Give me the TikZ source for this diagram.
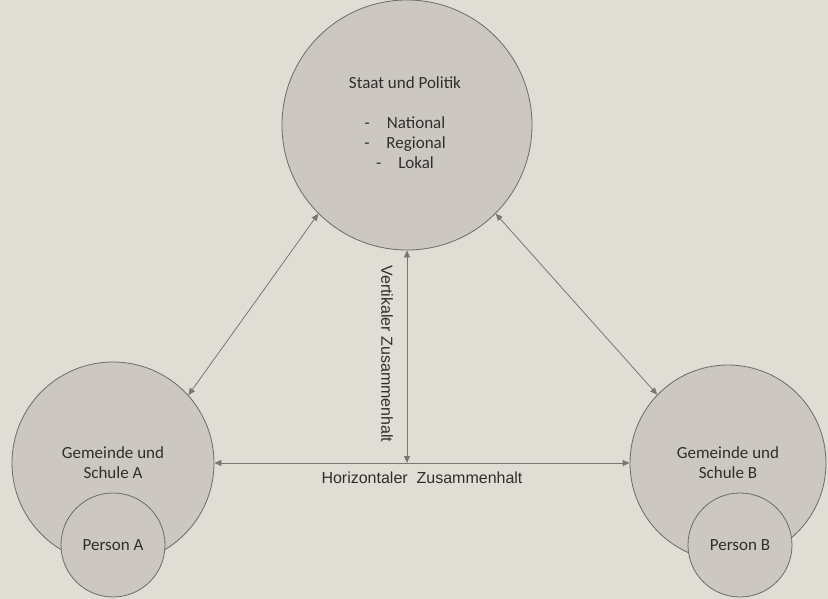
\documentclass[tikz,border=0pt]{standalone}
\usepackage{fontspec}
\setmainfont{Carlito}
\newfontfamily\arialfont{Liberation Sans}
\usetikzlibrary{arrows.meta}

\definecolor{bgcol}{RGB}{224,221,212}
\definecolor{fillcol}{RGB}{204,199,193}
\definecolor{linecol}{RGB}{110,106,100}
\definecolor{arrowcol}{RGB}{122,118,112}
\definecolor{textcol}{RGB}{48,46,44}

\tikzset{
  ring/.style={circle,draw=linecol,fill=fillcol,line width=0.8pt,inner sep=0pt,
    text=textcol,align=center,font=\fontsize{17}{20}\selectfont},
  link/.style={draw=arrowcol,line width=0.8pt,
    {Triangle[length=7pt,width=6pt]}-{Triangle[length=7pt,width=6pt]}},
  tag/.style={text=textcol,font=\arialfont\fontsize{16}{19}\selectfont}
}

\begin{document}
\begin{tikzpicture}[x=1pt,y=-1pt]

% Background
\fill[bgcol] (0,0) rectangle (828,599);
\useasboundingbox (0,0) rectangle (828,599);

%%%%%%%%%%%%%%%%%%%%%%%%%%%%%%%%%%%%%%%%%%%%%%%%%%
% Circles
%%%%%%%%%%%%%%%%%%%%%%%%%%%%%%%%%%%%%%%%%%%%%%%%%%

% State
\node[ring,minimum size=250pt] (staat) at (407,125) {};
\node[text=textcol,align=center,font=\fontsize{17}{20}\selectfont]
  (staattext) at (405,123)
  {Staat und Politik\\[20pt]
   -\quad National\\
   -\quad Regional\\
   -\quad Lokal};

% Communities
\node[ring,minimum size=202pt] (gemA) at (113,463) {Gemeinde und\\Schule A};
\node[ring,minimum size=196pt] (gemB) at (728,463) {Gemeinde und\\Schule B};

% Persons
\node[ring,minimum size=104pt] (persA) at (113,545) {Person A};
\node[ring,minimum size=104pt] (persB) at (740,545) {Person B};

%%%%%%%%%%%%%%%%%%%%%%%%%%%%%%%%%%%%%%%%%%%%%%%%%%
% Arrows
%%%%%%%%%%%%%%%%%%%%%%%%%%%%%%%%%%%%%%%%%%%%%%%%%%

\coordinate (hmid) at (407,463);

\draw[link] (staat.225) -- (gemA.42);
\draw[link] (staat.-45) -- (gemB.136);
\draw[link] (gemA.east) -- (gemB.west);
\draw[link] (staat.south) -- (hmid);

% Labels
\node[tag,rotate=-90] (vert) at (387,354) {Vertikaler Zusammenhalt};
\node[tag] (hori) at (422,478) {Horizontaler\ \ Zusammenhalt};

\end{tikzpicture}
\end{document}
